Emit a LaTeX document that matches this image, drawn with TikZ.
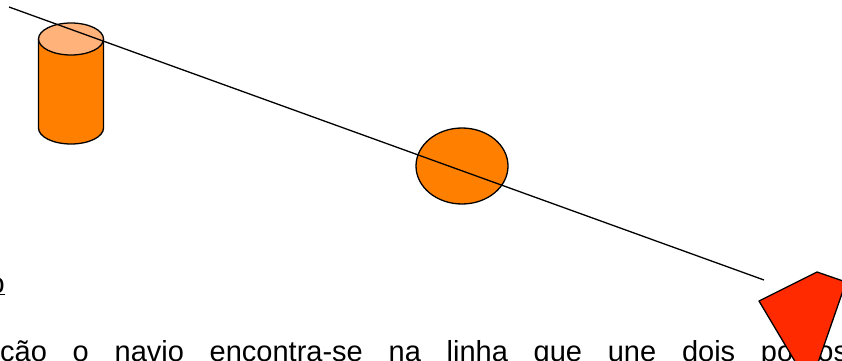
\documentclass[tikz,border=0pt]{standalone}
\usepackage{fontspec}
\setmainfont{Liberation Sans}
\usepackage{tikz}
\usepackage{xcolor}

\definecolor{barrelbody}{HTML}{FF8000}
\definecolor{barreltop}{HTML}{FFB27A}
\definecolor{buoyfill}{HTML}{FF8000}
\definecolor{markred}{HTML}{FF2A00}

\begin{document}
\begin{tikzpicture}[
    x=1pt,y=1pt,
    outline/.style={draw=black,line width=1.3pt,line join=round},
    sightline/.style={draw=black,line width=1.3pt},
    bodytext/.style={inner sep=0pt,font=\fontsize{29}{34}\selectfont}
]

    %------------------------------------------------
    % Page frame
    %------------------------------------------------

    \useasboundingbox (0,0) rectangle (842,360);
    \clip (0,0) rectangle (842,360);

    %------------------------------------------------
    % Text of the page
    %------------------------------------------------

    \node[bodytext,anchor=base east]
        (headtail) at (5,67)
        {\underline{o}};

    \node[bodytext,anchor=base west]
        (textline) at (0,-1)
        {\makebox[848pt][s]{ção o navio encontra-se na linha que une dois pontos}};

    %------------------------------------------------
    % Cylinder
    %------------------------------------------------

    \filldraw[outline,fill=barrelbody]
        (38.5,321) -- (38.5,232)
        arc[start angle=180,end angle=360,x radius=32.5,y radius=16]
        -- (103.5,321) -- cycle;

    \filldraw[outline,fill=barreltop]
        (71,321) ellipse[x radius=32.5,y radius=16];

    %------------------------------------------------
    % Round buoy
    %------------------------------------------------

    \filldraw[outline,fill=buoyfill]
        (462,194) ellipse[x radius=46,y radius=38];

    %------------------------------------------------
    % Line through the marks
    %------------------------------------------------

    \coordinate (linestart) at (9,353);
    \coordinate (lineend) at (764,80);

    \draw[sightline]
        (linestart) -- (lineend);

    %------------------------------------------------
    % Red mark
    %------------------------------------------------

    \filldraw[outline,fill=markred]
        (759,59) -- (817,88) -- (846,78)
        -- (812,-20) -- (806,-20) -- cycle;

\end{tikzpicture}
\end{document}
